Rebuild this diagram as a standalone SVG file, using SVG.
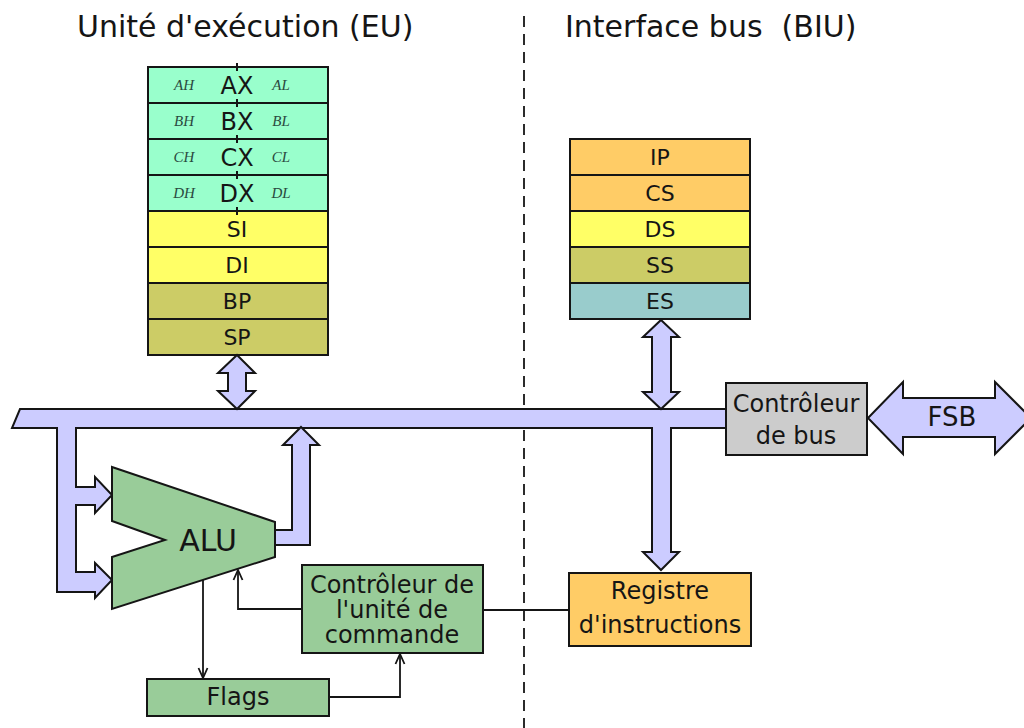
<svg xmlns="http://www.w3.org/2000/svg" width="1024" height="728" viewBox="0 0 1024 728">
<style>
text{font-family:"DejaVu Sans","Verdana",sans-serif;fill:#151515;text-anchor:middle}
.hdr{font-size:30px;text-anchor:start}
.reg{stroke:#151515;stroke-width:2}
.rl{font-size:22px}
.rx{font-size:24px}
.sm{font-family:"Liberation Serif","DejaVu Serif",serif;font-style:italic;font-size:15px;fill:#2a4a40}
.bus{fill:#ccccff;stroke:#151515;stroke-width:2;stroke-linejoin:miter}
.box{stroke:#151515;stroke-width:2}
.lbl{font-size:24px}
.wire{fill:none;stroke:#151515;stroke-width:1.8}
</style>
<defs>
<marker id="ah" viewBox="0 0 12 12" refX="11" refY="6" markerWidth="12" markerHeight="12" markerUnits="userSpaceOnUse" orient="auto">
<path d="M1,1.5 L11,6 L1,10.5" fill="none" stroke="#151515" stroke-width="1.8"/>
</marker>
</defs>
<rect width="1024" height="728" fill="#ffffff"/>
<text class="hdr" x="77" y="37">Unité d'exécution (EU)</text>
<text class="hdr" x="565" y="37" xml:space="preserve">Interface bus  (BIU)</text>
<line x1="524" y1="16" x2="524" y2="728" stroke="#151515" stroke-width="1.8" stroke-dasharray="11,7"/>
<g id="eu-registers">
<rect class="reg" x="148" y="67" width="180" height="36" fill="#99ffcc"/>
<rect class="reg" x="148" y="103" width="180" height="36" fill="#99ffcc"/>
<rect class="reg" x="148" y="139" width="180" height="36" fill="#99ffcc"/>
<rect class="reg" x="148" y="175" width="180" height="36" fill="#99ffcc"/>
<rect class="reg" x="148" y="211" width="180" height="36" fill="#ffff66"/>
<rect class="reg" x="148" y="247" width="180" height="36" fill="#ffff66"/>
<rect class="reg" x="148" y="283" width="180" height="36" fill="#cccc66"/>
<rect class="reg" x="148" y="319" width="180" height="36" fill="#cccc66"/>
<line x1="237" y1="63" x2="237" y2="215" stroke="#151515" stroke-width="2" stroke-dasharray="8,28"/>
<text class="rx" x="237" y="94">AX</text>
<text class="rx" x="237" y="130">BX</text>
<text class="rx" x="237" y="166">CX</text>
<text class="rx" x="237" y="202">DX</text>
<text class="sm" x="184" y="90">AH</text><text class="sm" x="281" y="90">AL</text>
<text class="sm" x="184" y="126">BH</text><text class="sm" x="281" y="126">BL</text>
<text class="sm" x="184" y="162">CH</text><text class="sm" x="281" y="162">CL</text>
<text class="sm" x="184" y="198">DH</text><text class="sm" x="281" y="198">DL</text>
<text class="rl" x="237" y="237">SI</text>
<text class="rl" x="237" y="273">DI</text>
<text class="rl" x="237" y="309">BP</text>
<text class="rl" x="237" y="345">SP</text>
</g>
<g id="biu-registers">
<rect class="reg" x="570" y="139" width="180" height="36" fill="#ffcc66"/>
<rect class="reg" x="570" y="175" width="180" height="36" fill="#ffcc66"/>
<rect class="reg" x="570" y="211" width="180" height="36" fill="#ffff66"/>
<rect class="reg" x="570" y="247" width="180" height="36" fill="#cccc66"/>
<rect class="reg" x="570" y="283" width="180" height="36" fill="#99cccc"/>
<text class="rl" x="660" y="165">IP</text>
<text class="rl" x="660" y="201">CS</text>
<text class="rl" x="660" y="237">DS</text>
<text class="rl" x="660" y="273">SS</text>
<text class="rl" x="660" y="309">ES</text>
</g>
<g id="connectors">
<polygon class="bus" points="20,409 726,409 726,428 671,428 671,552 679,552 661,570 643,552 652,552 652,428 76,428 76,487 95,487 95,477 112,495 95,513 95,505 76,505 76,572 95,572 95,563 112,580 95,598 95,592 57,592 57,428 12,428"/>
<polygon class="bus" points="237,355 255,373 246,373 246,391 255,391 237,409 218,391 228,391 228,373 218,373"/>
<polygon class="bus" points="661,320 679,337 671,337 671,392 679,392 661,409 643,392 652,392 652,337 643,337"/>
<polygon class="bus" points="275,530 292,530 292,445 283,445 301,427 319,445 310,445 310,545 275,545"/>
<polygon class="bus" points="868,418 903,382 903,398 995,398 995,382 1031,418 995,454 995,437 903,437 903,454"/>
<polyline class="wire" points="203,580 203,678" marker-end="url(#ah)"/>
<polyline class="wire" points="302,609 238,609 238,570" marker-end="url(#ah)"/>
<polyline class="wire" points="329,697 400,697 400,654" marker-end="url(#ah)"/>
<line class="wire" x1="483" y1="610" x2="569" y2="610"/>
</g>
<g id="bus-controller">
<rect class="box" x="726" y="383" width="141" height="72" fill="#cccccc"/>
<text class="lbl" x="796" y="412">Contrôleur</text>
<text class="lbl" x="796" y="444">de bus</text>
</g>
<text class="lbl" x="952" y="426" style="font-size:26px">FSB</text>
<g id="alu">
<polygon class="box" points="112,467 275,522 275,557 112,609 112,557 165,540 112,521" fill="#99cc99"/>
<text x="208" y="551" style="font-size:30px">ALU</text>
</g>
<g id="control-unit">
<rect class="box" x="302" y="565" width="181" height="88" fill="#99cc99"/>
<text class="lbl" x="392" y="593">Contrôleur de</text>
<text class="lbl" x="392" y="618">l'unité de</text>
<text class="lbl" x="392" y="643">commande</text>
</g>
<g id="flags">
<rect class="box" x="147" y="679" width="182" height="37" fill="#99cc99"/>
<text class="lbl" x="238" y="705">Flags</text>
</g>
<g id="instruction-register">
<rect class="box" x="569" y="573" width="182" height="73" fill="#ffcc66"/>
<text class="lbl" x="660" y="599">Registre</text>
<text class="lbl" x="660" y="633">d'instructions</text>
</g>
</svg>
